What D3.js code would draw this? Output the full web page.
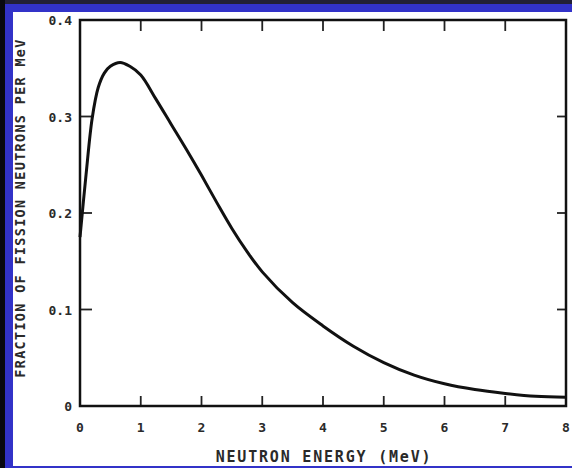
<!DOCTYPE html>
<html>
<head>
<meta charset="utf-8">
<script src="https://cdn.jsdelivr.net/npm/d3@7"></script>
<style>
  body { margin: 0; background: #1c1b2e; }
  svg { display: block; }
</style>
</head>
<body>
<script>
// fission neutron spectrum
var energy = [0, 0.1, 0.2, 0.3, 0.4, 0.5, 0.66, 0.82, 1.0, 1.25, 1.5, 1.75, 2.0, 2.25, 2.5, 2.75, 3.0, 3.5, 4.0, 4.5, 5.0, 5.5, 6.0, 6.5, 7.0, 7.5, 8.0];
var fraction = [0.175, 0.24, 0.298, 0.330, 0.345, 0.352, 0.356, 0.352, 0.343, 0.318, 0.292, 0.266, 0.239, 0.211, 0.184, 0.160, 0.139, 0.107, 0.083, 0.062, 0.045, 0.032, 0.023, 0.017, 0.013, 0.010, 0.009];

var xTicks = [0, 1, 2, 3, 4, 5, 6, 7, 8];
var yTicks = [0, 0.1, 0.2, 0.3, 0.4];
var yTickLabels = ["0", "0.1", "0.2", "0.3", "0.4"];
var xTitle = "NEUTRON ENERGY (MeV)";
var yTitle = "FRACTION OF FISSION NEUTRONS PER MeV";

var width = 572, height = 468;
var font = "'DejaVu Sans Mono', monospace";

var svg = d3.select("body").append("svg")
    .attr("width", width)
    .attr("height", height);

// slide background: dark edge, blue frame, white panel
svg.append("rect").attr("x", 0).attr("y", 0).attr("width", width).attr("height", height).attr("fill", "#222036");
svg.append("rect").attr("x", 0).attr("y", 0).attr("width", 5).attr("height", height).attr("fill", "#080810");
svg.append("rect").attr("x", 5).attr("y", 4).attr("width", width - 5).attr("height", height - 4).attr("fill", "#3232c8");
svg.append("rect").attr("x", 13).attr("y", 12).attr("width", width - 13).attr("height", 454).attr("fill", "#ffffff");

var x = d3.scaleLinear().domain([0, 8]).range([80, 566]);
var y = d3.scaleLinear().domain([0, 0.4]).range([406, 20]);

var g = svg.append("g");

// inward ticks on all four sides
g.selectAll(".xtb").data(xTicks.slice(1, -1)).enter().append("line")
    .attr("x1", function(d){ return x(d); }).attr("x2", function(d){ return x(d); })
    .attr("y1", y(0)).attr("y2", y(0) - 10)
    .attr("stroke", "#222").attr("stroke-width", 1.8);
g.selectAll(".xtt").data(xTicks.slice(1, -1)).enter().append("line")
    .attr("x1", function(d){ return x(d); }).attr("x2", function(d){ return x(d); })
    .attr("y1", y(0.4)).attr("y2", y(0.4) + 11)
    .attr("stroke", "#222").attr("stroke-width", 1.8);
g.selectAll(".ytl").data(yTicks.slice(1, -1)).enter().append("line")
    .attr("x1", x(0)).attr("x2", x(0) + 12)
    .attr("y1", function(d){ return y(d); }).attr("y2", function(d){ return y(d); })
    .attr("stroke", "#222").attr("stroke-width", 1.8);
g.selectAll(".ytr").data(yTicks.slice(1, -1)).enter().append("line")
    .attr("x1", x(8)).attr("x2", x(8) - 9)
    .attr("y1", function(d){ return y(d); }).attr("y2", function(d){ return y(d); })
    .attr("stroke", "#222").attr("stroke-width", 1.8);

// frame
g.append("rect")
    .attr("x", x(0)).attr("y", y(0.4))
    .attr("width", x(8) - x(0)).attr("height", y(0) - y(0.4))
    .attr("fill", "none").attr("stroke", "#111").attr("stroke-width", 2.5);

// tick labels
g.selectAll(".xl").data(xTicks).enter().append("text")
    .attr("x", function(d){ return x(d); })
    .attr("y", 432)
    .attr("text-anchor", "middle")
    .attr("font-family", font).attr("font-weight", "bold").attr("font-size", 13)
    .attr("fill", "#2a2a2a")
    .text(function(d){ return d; });
g.selectAll(".yl").data(yTicks).enter().append("text")
    .attr("x", 72)
    .attr("y", function(d){ return y(d) + 5; })
    .attr("text-anchor", "end")
    .attr("font-family", font).attr("font-weight", "bold").attr("font-size", 13)
    .attr("fill", "#2a2a2a")
    .text(function(d, i){ return yTickLabels[i]; });

// axis titles
g.append("text")
    .attr("x", 324).attr("y", 462)
    .attr("text-anchor", "middle")
    .attr("font-family", font).attr("font-weight", "bold").attr("font-size", 15)
    .attr("letter-spacing", 1.8)
    .attr("fill", "#2a2a2a")
    .text(xTitle);
g.append("text")
    .attr("transform", "translate(25," + 208 + ") rotate(-90)")
    .attr("text-anchor", "middle")
    .attr("font-family", font).attr("font-weight", "bold").attr("font-size", 13.5)
    .attr("letter-spacing", 1.3)
    .attr("fill", "#2a2a2a")
    .text(yTitle);

// spectrum curve
var line = d3.line()
    .x(function(d, i){ return x(energy[i]); })
    .y(function(d){ return y(d); })
    .curve(d3.curveCatmullRom.alpha(0.5));

g.append("path")
    .datum(fraction)
    .attr("d", line)
    .attr("fill", "none")
    .attr("stroke", "#111")
    .attr("stroke-width", 3);
</script>
</body>
</html>
